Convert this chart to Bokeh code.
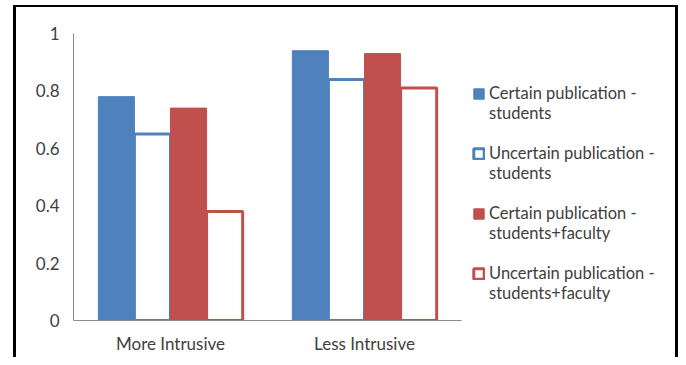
from bokeh.plotting import figure
from bokeh.models import ColumnDataSource, FactorRange, Range1d, Legend, LegendItem, FixedTicker
from bokeh.transform import dodge
from bokeh.embed import file_html
from bokeh.resources import INLINE

categories = ["More Intrusive", "Less Intrusive"]
certain_students = [0.78, 0.94]
uncertain_students = [0.65, 0.84]
certain_students_faculty = [0.74, 0.93]
uncertain_students_faculty = [0.38, 0.81]
series_label_line1 = [
    "Certain publication -",
    "Uncertain publication -",
    "Certain publication -",
    "Uncertain publication -",
]
series_label_line2 = ["students", "students", "students+faculty", "students+faculty"]
y_ticks = [0, 0.2, 0.4, 0.6, 0.8, 1]
y_tick_labels = ["0", "0.2", "0.4", "0.6", "0.8", "1"]

BLUE = "#4F81BD"
RED = "#C0504D"
FONT = "Lato"
TXT = "#404040"

source = ColumnDataSource(dict(
    cat=categories,
    cs=certain_students,
    us=uncertain_students,
    csf=certain_students_faculty,
    usf=uncertain_students_faculty,
))

p = figure(
    frame_width=388, frame_height=287,
    x_range=FactorRange(*categories, range_padding=0, factor_padding=0),
    y_range=Range1d(0, 1),
    output_backend="svg", toolbar_location=None,
    min_border_left=73, min_border_right=217, min_border_top=33, min_border_bottom=37,
)
p.border_fill_color = None
p.background_fill_color = "white"
# black chart-area frame (top, left, right edges) drawn behind the transparent canvas border
p.styles = {
    "background-image": "linear-gradient(#000,#000), linear-gradient(#000,#000), linear-gradient(#000,#000)",
    "background-position": "13px 5px, 13px 5px, 675px 5px",
    "background-size": "3px 400px, 665px 2px, 3px 400px",
    "background-repeat": "no-repeat",
    "background-color": "white",
}

bw = 0.186
r1 = p.vbar(x=dodge("cat", -1.5 * bw, range=p.x_range), top="cs", width=bw, source=source,
            fill_color=BLUE, line_color=BLUE, line_width=1)
r2 = p.vbar(x=dodge("cat", -0.5 * bw, range=p.x_range), top="us", width=bw, source=source,
            fill_color="white", line_color=BLUE, line_width=3)
r3 = p.vbar(x=dodge("cat", 0.5 * bw, range=p.x_range), top="csf", width=bw, source=source,
            fill_color=RED, line_color=RED, line_width=1)
r4 = p.vbar(x=dodge("cat", 1.5 * bw, range=p.x_range), top="usf", width=bw, source=source,
            fill_color="white", line_color=RED, line_width=3)
# empty, invisible renderer used for the second line of each legend label
blank = p.vbar(x=[], top=[], width=bw, fill_alpha=0, line_alpha=0)

p.xgrid.visible = False
p.ygrid.visible = False
p.outline_line_color = None

for ax in (p.xaxis[0], p.yaxis[0]):
    ax.axis_line_color = "#8C8C8C"
    ax.axis_line_width = 1
    ax.major_tick_line_color = None
    ax.minor_tick_line_color = None
    ax.major_tick_out = 0
    ax.major_tick_in = 0
    ax.major_label_text_font = FONT
    ax.major_label_text_font_size = "17px"
    ax.major_label_text_color = TXT

p.yaxis[0].ticker = FixedTicker(ticks=y_ticks)
p.yaxis[0].major_label_overrides = {t: l for t, l in zip(y_ticks, y_tick_labels)}
p.yaxis[0].major_label_standoff = 14
p.xaxis[0].major_label_standoff = 12

items = []
for l1, l2, r in zip(series_label_line1, series_label_line2, [r1, r2, r3, r4]):
    items.append(LegendItem(label=l1, renderers=[r]))
    items.append(LegendItem(label=l2 + "\n\u00a0", renderers=[blank]))

legend = Legend(
    items=items,
    location=(11, -3),
    label_text_font=FONT, label_text_font_size="16.5px", label_text_color=TXT,
    glyph_width=13, glyph_height=13, label_standoff=4, spacing=0, label_height=10,
    padding=0, margin=0, border_line_color=None, background_fill_alpha=0,
)
p.add_layout(legend, "right")

open("out.html", "w").write(file_html(p, INLINE))
